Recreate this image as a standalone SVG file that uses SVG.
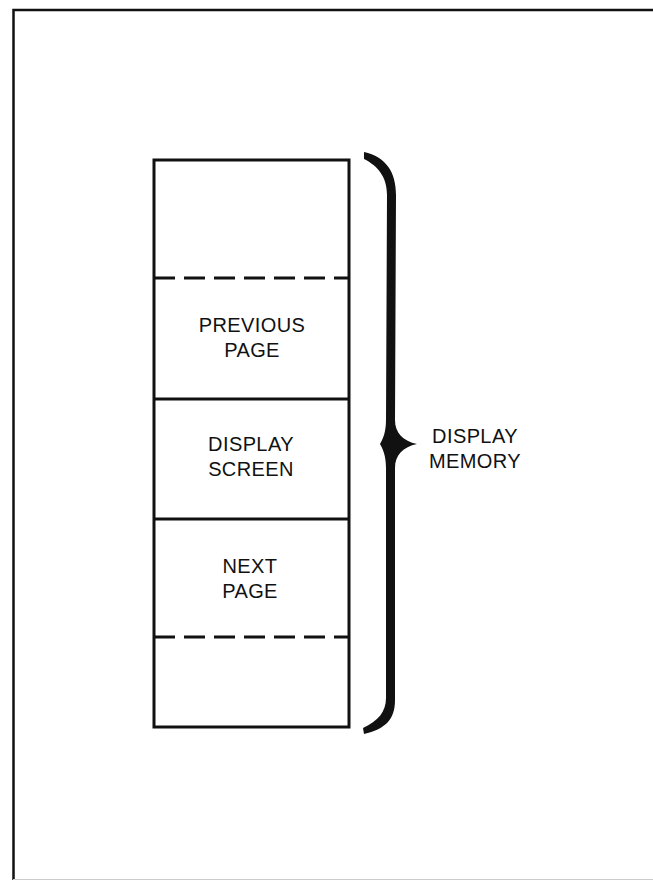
<svg xmlns="http://www.w3.org/2000/svg" width="653" height="880" viewBox="0 0 653 880">
<style>
.lbl{font-family:"Liberation Sans",Arial,Helvetica,sans-serif;font-size:20px;fill:#111;text-anchor:middle;letter-spacing:0.4px}
.box{fill:none;stroke:#111;stroke-width:3}
.dash{stroke:#111;stroke-width:3;stroke-dasharray:21 9}
</style>
<rect width="653" height="880" fill="#fff"/>
<g id="frame">
<path d="M13.5,880 V10 H653" fill="none" stroke="#111" stroke-width="2.5"/>
<line x1="13" y1="879.5" x2="653" y2="879.5" stroke="#ccc" stroke-width="1"/>
</g>
<g id="memory-stack">
<rect class="box" x="154" y="160" width="195" height="567"/>
</g>
<g id="top-area">
<line class="dash" x1="154" y1="278" x2="349" y2="278"/>
</g>
<g id="previous-page">
<text class="lbl" x="252" y="332">PREVIOUS</text>
<text class="lbl" x="252" y="357">PAGE</text>
<line x1="154" y1="399" x2="349" y2="399" stroke="#111" stroke-width="3"/>
</g>
<g id="display-screen">
<text class="lbl" x="251" y="451">DISPLAY</text>
<text class="lbl" x="251" y="476">SCREEN</text>
<line x1="154" y1="519" x2="349" y2="519" stroke="#111" stroke-width="3"/>
</g>
<g id="next-page">
<text class="lbl" x="250" y="573">NEXT</text>
<text class="lbl" x="250" y="598">PAGE</text>
<line class="dash" x1="154" y1="637" x2="349" y2="637"/>
</g>
<g id="connectors">
<path id="brace" fill="#111" d="M364,152 C386,157 396,172 396,195 L395,420 C395,433 403,441 417,444 C403,447 395,455 395,468 L395,700 C395,720 385,729 364,734 L363,728 C378,721 386,712 386,698 L386,468 C386,456 383,449 380,444 C383,439 386,432 386,420 L387,195 C387,177 378,166 364,159 Z"/>
</g>
<g id="display-memory">
<text class="lbl" x="475" y="443">DISPLAY</text>
<text class="lbl" x="475" y="468">MEMORY</text>
</g>
</svg>
